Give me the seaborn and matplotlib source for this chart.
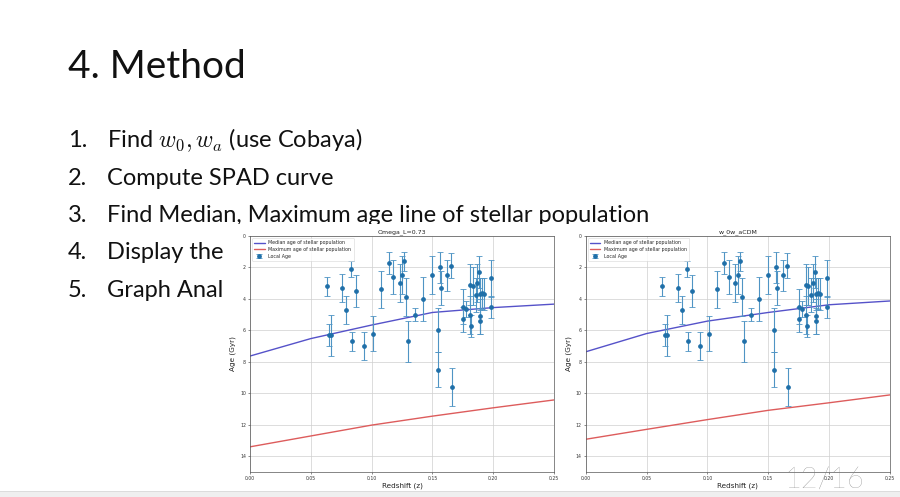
import numpy as np
import pandas as pd
import seaborn as sns
import matplotlib
matplotlib.use("Agg")
import matplotlib.pyplot as plt
from matplotlib.patches import Rectangle

# ---------------- data ----------------
z_obs = [0.063, 0.065, 0.067, 0.076, 0.079, 0.083, 0.084, 0.087, 0.094, 0.101,
         0.108, 0.114, 0.118, 0.123, 0.125, 0.127, 0.128, 0.130, 0.136, 0.142,
         0.150, 0.155, 0.155, 0.156, 0.157, 0.162, 0.165, 0.166, 0.175, 0.175,
         0.178, 0.181, 0.181, 0.182, 0.183, 0.1855, 0.1865, 0.188, 0.189, 0.189,
         0.1895, 0.191, 0.1925, 0.198, 0.198]
age_obs = [3.2, 6.3, 6.3, 3.3, 4.7, 2.1, 6.7, 3.5, 7.0, 6.2,
           3.4, 1.7, 2.6, 3.0, 2.5, 1.6, 3.9, 6.7, 5.0, 4.0,
           2.5, 6.0, 8.5, 2.0, 3.3, 2.5, 1.9, 9.6, 4.5, 5.3,
           4.66, 3.1, 5.0, 5.7, 3.2, 3.75, 3.0, 2.3, 3.7, 5.4,
           5.1, 3.65, 3.7, 4.5, 2.7]
age_err = [0.6, 0.7, 1.3, 0.9, 0.9, 0.5, 0.6, 1.0, 0.9, 1.1,
           1.2, 0.7, 1.1, 1.2, 1.2, 0.6, 1.2, 1.3, 0.4, 1.4,
           1.2, 1.4, 1.1, 1.0, 1.1, 1.0, 0.8, 1.2, 1.1, 0.8,
           0.5, 1.3, 1.2, 0.7, 1.2, 1.1, 1.2, 1.0, 1.0, 0.8,
           1.1, 1.0, 1.0, 0.7, 1.2]

z_grid = [0.00, 0.05, 0.10, 0.15, 0.20, 0.25]
median_lcdm = [7.63, 6.52, 5.66, 4.86, 4.55, 4.33]
max_lcdm = [13.40, 12.71, 12.02, 11.45, 10.92, 10.42]
median_w0wa = [7.36, 6.20, 5.41, 4.86, 4.37, 4.13]
max_w0wa = [12.92, 12.29, 11.67, 11.08, 10.60, 10.10]

titles = ["Omega_L=0.73", "w_0w_aCDM"]
x_ticks = [0.00, 0.05, 0.10, 0.15, 0.20, 0.25]
y_ticks = [0, 2, 4, 6, 8, 10, 12, 14]

slide_title = "4. Method"
items = [r"Find $w_0, w_a$ (use Cobaya)",
         "Compute SPAD curve",
         "Find Median, Maximum age line of stellar population",
         "Display the",
         "Graph Anal"]
page_label = "12/16"

# ---------------- style ----------------
sns.set_style("ticks")
plt.rcParams['font.family'] = ['DejaVu Sans']
plt.rcParams['mathtext.fontset'] = 'cm'

W, H = 900, 497
fig = plt.figure(figsize=(W / 100, H / 100), dpi=100)
fig.patch.set_facecolor("white")

slide_font = "Lato"
fig.text(68 / W, 1 - 78 / H, slide_title, fontsize=28, family=slide_font,
         color="#111111", va="baseline", ha="left", zorder=1)
baselines = [147, 185, 222, 259, 297]
for i, (txt, yb) in enumerate(zip(items, baselines)):
    fig.text(68 / W, 1 - yb / H, f"{i + 1}.", fontsize=17, family=slide_font,
             color="#111111", va="baseline", ha="left", zorder=1)
    fig.text(107 / W, 1 - yb / H, txt, fontsize=17, family=slide_font,
             color="#111111", va="baseline", ha="left", zorder=1)

# white plot-image background that hides text behind the plots
fig.add_artist(Rectangle((226 / W, 1 - 492 / H), (W - 226) / W, (492 - 224) / H,
                         transform=fig.transFigure, facecolor="white",
                         edgecolor="none", zorder=1.5))

blue = "#5552c9"
red = "#dd5c5c"
pt = "#1f6fa8"

ax_pos = [(250, 554), (585.7, 890)]
medians = [median_lcdm, median_w0wa]
maxes = [max_lcdm, max_w0wa]
for k in range(2):
    x0, x1 = ax_pos[k]
    ax = fig.add_axes([x0 / W, 1 - 472 / H, (x1 - x0) / W, (472 - 236) / H])
    ax.set_zorder(2)
    df_line = pd.DataFrame({"z": z_grid, "med": medians[k], "max": maxes[k]})
    sns.lineplot(data=df_line, x="z", y="med", ax=ax, color=blue, lw=1.0,
                 label="Median age of stellar population")
    sns.lineplot(data=df_line, x="z", y="max", ax=ax, color=red, lw=1.0,
                 label="Maximum age of stellar population")
    ax.errorbar(z_obs, age_obs, yerr=age_err, fmt="o", color=pt, ms=2.4,
                ecolor="#4f94c4", elinewidth=0.8, capsize=2.0, capthick=0.6,
                label="Local Age")
    ax.set_xlim(0, 0.25)
    ax.set_ylim(15, 0)
    ax.set_xticks(x_ticks)
    ax.set_xticklabels([f"{v:.2f}" for v in x_ticks])
    ax.set_yticks(y_ticks)
    ax.grid(True, color="#cfcfcf", lw=0.5)
    ax.tick_params(labelsize=3.3, length=1.6, width=0.4, pad=1.2,
                   colors="#333333")
    for s in ax.spines.values():
        s.set_linewidth(0.5)
        s.set_color("#555555")
    ax.set_xlabel("Redshift (z)", fontsize=5.2, labelpad=1.5, color="#222222")
    ax.set_ylabel("Age (Gyr)", fontsize=5.2, labelpad=3, color="#222222")
    ax.set_title(titles[k], fontsize=4.5, pad=2, color="#222222")
    leg = ax.legend(loc="upper left", fontsize=3.4, frameon=True,
                    handlelength=2.2, borderpad=0.5, labelspacing=0.35,
                    borderaxespad=0.4, fancybox=True)
    leg.get_frame().set_linewidth(0.4)
    leg.get_frame().set_edgecolor("#cccccc")

# page number
fig.text(785 / W, 1 - 488 / H, page_label, fontsize=21, family=slide_font,
         fontweight="light", color="#7a7a7a", va="baseline", ha="left", zorder=5)

# bottom strip
fig.add_artist(Rectangle((0, 0), 1, 5 / H, transform=fig.transFigure,
                         facecolor="#efefef", edgecolor="none", zorder=6))
fig.add_artist(Rectangle((0, 5 / H), 1, 0.8 / H, transform=fig.transFigure,
                         facecolor="#dcdcdc", edgecolor="none", zorder=6))

fig.savefig("out.png", dpi=100)
